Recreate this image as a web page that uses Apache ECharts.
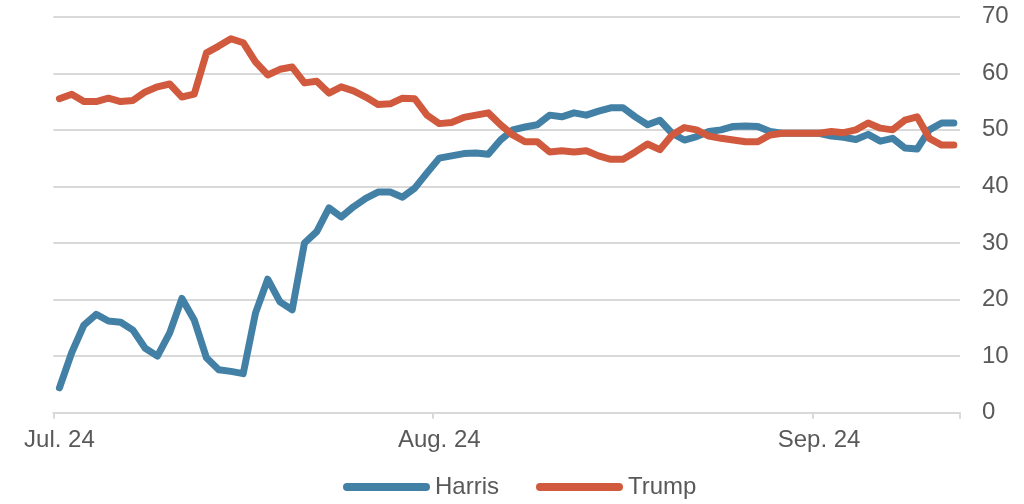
<!DOCTYPE html>
<html>
<head>
<meta charset="utf-8">
<script src="https://cdn.jsdelivr.net/npm/echarts@6/dist/echarts.min.js"></script>
<style>
html,body{margin:0;padding:0;background:#fff;}
#chart{width:1024px;height:504px;}
</style>
</head>
<body>
<div id="chart"></div>
<script>
// Daily categories from Jul 1 to Sep 12, 2024
const startDate = '2024-07-01';
const dayCount = 74;
// Month tick labels: category index -> label
const tickLabels = {0: 'Jul. 24', 31: 'Aug. 24', 62: 'Sep. 24'};
const yTicks = {min: 0, max: 70, interval: 10};

const harris = [
  4.4, 10.6, 15.5, 17.4, 16.2, 16.0, 14.6, 11.4, 10.0, 14.1,
  20.2, 16.4, 9.7, 7.6, 7.3, 6.9, 17.6, 23.6, 19.6, 18.2,
  30.0, 32.0, 36.2, 34.6, 36.4, 37.9, 39.0, 39.0, 38.1, 39.7,
  42.4, 45.0, 45.4, 45.8, 45.9, 45.7, 48.2, 50.0, 50.5, 50.9,
  52.6, 52.3, 53.0, 52.6, 53.3, 53.9, 53.9, 52.3, 50.9, 51.7,
  49.4, 48.2, 48.8, 49.7, 50.0, 50.6, 50.7, 50.6, 49.7, 49.4,
  49.4, 49.4, 49.4, 48.9, 48.7, 48.3, 49.2, 48.0, 48.5, 46.8,
  46.6, 50.0, 51.2, 51.2
];
const trump = [
  55.5, 56.3, 55.0, 55.0, 55.6, 55.0, 55.2, 56.7, 57.6, 58.1,
  55.8, 56.3, 63.6, 64.8, 66.1, 65.4, 62.0, 59.7, 60.7, 61.1,
  58.3, 58.6, 56.5, 57.6, 56.9, 55.8, 54.5, 54.6, 55.6, 55.5,
  52.6, 51.1, 51.3, 52.2, 52.6, 53.0, 50.9, 49.1, 47.9, 47.9,
  46.1, 46.3, 46.1, 46.3, 45.4, 44.8, 44.8, 46.1, 47.5, 46.5,
  49.1, 50.4, 50.0, 48.9, 48.5, 48.2, 47.9, 47.9, 49.1, 49.4,
  49.4, 49.4, 49.4, 49.7, 49.5, 50.0, 51.2, 50.3, 50.0, 51.7,
  52.3, 48.5, 47.3, 47.3
];

const categories = [];
{
  const d0 = new Date(startDate + 'T00:00:00Z');
  for (let i = 0; i < dayCount; i++) {
    const d = new Date(d0.getTime() + i * 86400000);
    categories.push(d.toISOString().slice(0, 10));
  }
}

const FONT = '"Liberation Sans", Arial, sans-serif';
const TEXT = '#595959';
const GRID = '#D9D9D9';
const BLUE = '#4380A5';
const RED = '#D15A3E';
const legendIcon = 'path://M4,0 L83,0 A4,4 0 0 1 83,8 L4,8 A4,4 0 0 1 4,0 Z';

const chart = echarts.init(document.getElementById('chart'), null, {renderer: 'canvas'});
chart.setOption({
  animation: false,
  backgroundColor: '#ffffff',
  textStyle: {fontFamily: FONT},
  grid: {left: 53.3, right: 64, top: 16.7, bottom: 91.3, containLabel: false},
  legend: {
    data: ['Harris', 'Trump'],
    left: 338,
    top: 470,
    icon: legendIcon,
    itemWidth: 87,
    itemHeight: 8,
    itemGap: 37,
    textStyle: {fontFamily: FONT, fontSize: 24, color: TEXT}
  },
  xAxis: {
    type: 'category',
    data: categories,
    boundaryGap: true,
    axisLine: {show: true, lineStyle: {color: GRID, width: 2}},
    axisTick: {
      show: true,
      alignWithLabel: false,
      interval: function (idx) { return tickLabels.hasOwnProperty(idx); },
      length: 6,
      lineStyle: {color: GRID, width: 2}
    },
    axisLabel: {
      interval: function (idx) { return tickLabels.hasOwnProperty(idx); },
      formatter: function (val, idx) { return tickLabels[idx] || ''; },
      fontFamily: FONT,
      fontSize: 24,
      color: TEXT,
      margin: 16
    },
    splitLine: {show: false}
  },
  yAxis: {
    type: 'value',
    position: 'right',
    min: yTicks.min,
    max: yTicks.max,
    interval: yTicks.interval,
    axisLine: {show: false},
    axisTick: {show: false},
    axisLabel: {fontFamily: FONT, fontSize: 24, color: TEXT, margin: 22},
    splitLine: {show: true, lineStyle: {color: GRID, width: 2}}
  },
  series: [
    {
      name: 'Harris',
      type: 'line',
      data: harris,
      symbol: 'none',
      smooth: false,
      color: BLUE,
      lineStyle: {color: BLUE, width: 7, cap: 'round', join: 'round'},
      itemStyle: {color: BLUE}
    },
    {
      name: 'Trump',
      type: 'line',
      data: trump,
      symbol: 'none',
      smooth: false,
      color: RED,
      lineStyle: {color: RED, width: 7, cap: 'round', join: 'round'},
      itemStyle: {color: RED}
    }
  ]
});
</script>
</body>
</html>
